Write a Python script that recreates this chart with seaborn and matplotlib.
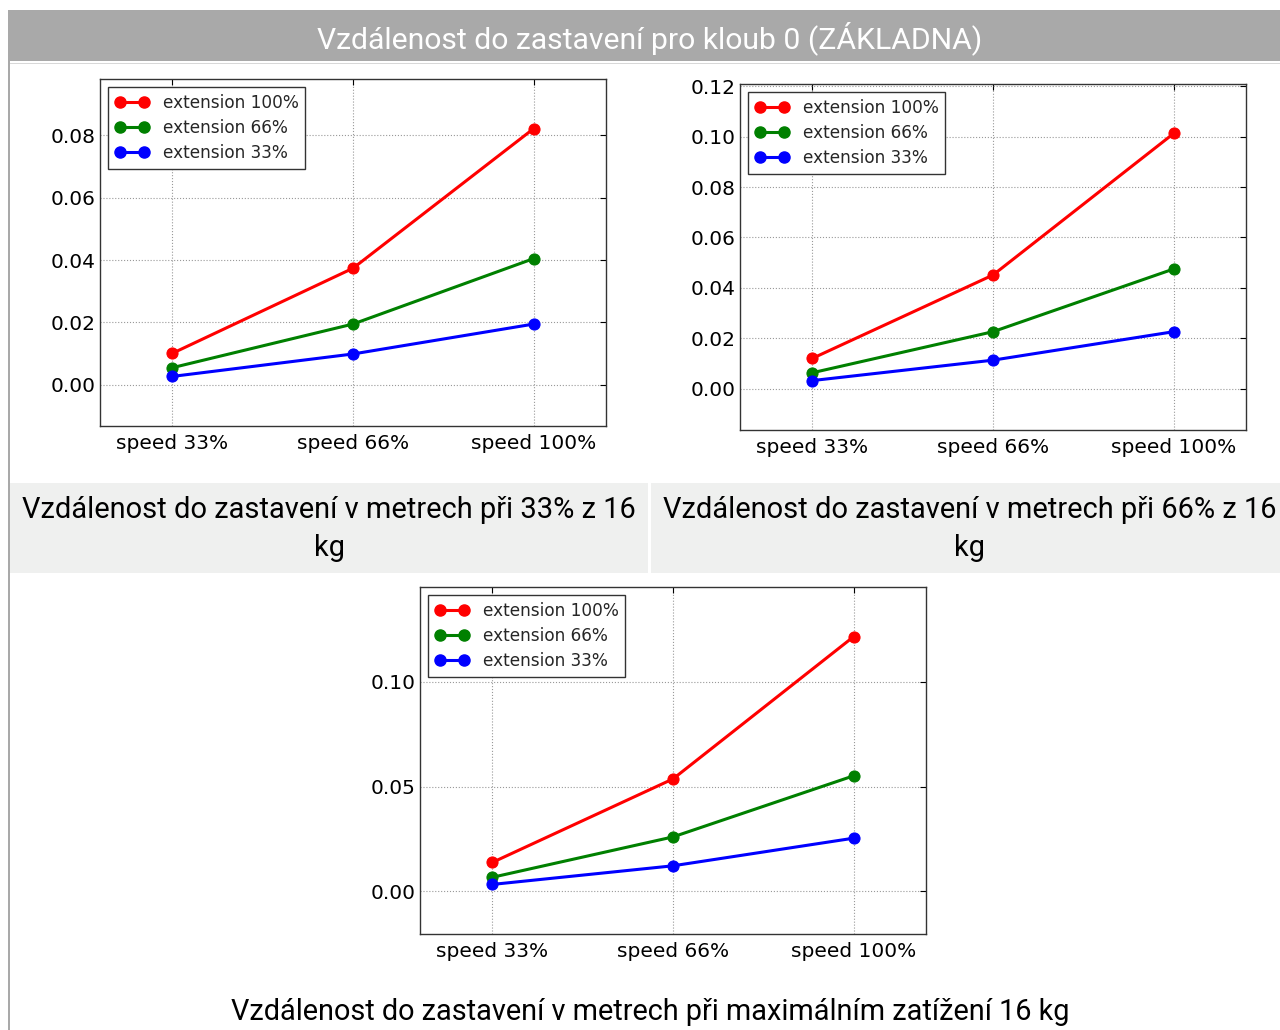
import matplotlib
matplotlib.use("Agg")
import matplotlib.pyplot as plt
import seaborn as sns
from matplotlib.patches import Rectangle
from matplotlib.lines import Line2D
from matplotlib.ticker import MultipleLocator

# data
speeds = ["speed 33%", "speed 66%", "speed 100%"]
ext_labels = ["extension 100%", "extension 66%", "extension 33%"]
ext_colors = ["#ff0000", "#008000", "#0000ff"]

load33_ext100 = [0.0101, 0.0374, 0.0822]
load33_ext66 = [0.0055, 0.0195, 0.0405]
load33_ext33 = [0.0027, 0.0099, 0.0195]

load66_ext100 = [0.0120, 0.0451, 0.1013]
load66_ext66 = [0.0063, 0.0226, 0.0475]
load66_ext33 = [0.0032, 0.0113, 0.0226]

loadmax_ext100 = [0.0138, 0.0537, 0.1217]
loadmax_ext66 = [0.0067, 0.0260, 0.0552]
loadmax_ext33 = [0.0033, 0.0122, 0.0254]

title = "Vzdálenost do zastavení pro kloub 0 (ZÁKLADNA)"
captions = [
    "Vzdálenost do zastavení v metrech při 33% z 16\nkg",
    "Vzdálenost do zastavení v metrech při 66% z 16\nkg",
    "Vzdálenost do zastavení v metrech při maximálním zatížení 16 kg",
]

sns.set_theme(style="white")
plt.rcParams["font.family"] = ["DejaVu Sans"]

W, H = 1280, 1030
fig = plt.figure(figsize=(W / 100, H / 100), dpi=100)
fig.patch.set_facecolor("white")


def fx(px):
    return px / W


def fy(py):
    return 1 - py / H


# page decoration: header bar, left border, caption band
fig.patches.append(Rectangle((fx(8), fy(61)), fx(1272), 51 / H, transform=fig.transFigure,
                             facecolor="#a9a9a9", edgecolor="none", zorder=0))
fig.patches.append(Rectangle((fx(8), fy(64)), fx(1272), 1.5 / H, transform=fig.transFigure,
                             facecolor="#d8d8d8", edgecolor="none", zorder=0))
fig.patches.append(Rectangle((fx(8), 0), fx(2), fy(61), transform=fig.transFigure,
                             facecolor="#a9a9a9", edgecolor="none", zorder=0))
fig.patches.append(Rectangle((fx(10), fy(573)), fx(1270), 90 / H, transform=fig.transFigure,
                             facecolor="#eff0ef", edgecolor="none", zorder=0))
fig.patches.append(Rectangle((fx(648), fy(573)), fx(3), 90 / H, transform=fig.transFigure,
                             facecolor="white", edgecolor="none", zorder=0))

txt_font = ["Roboto", "DejaVu Sans"]
fig.text(fx(650), fy(38), title, ha="center", va="center", color="white",
         fontsize=21.7, family=txt_font)
fig.text(fx(329), fy(529), captions[0], ha="center", va="center", color="black",
         fontsize=20.9, family=txt_font, linespacing=1.5)
fig.text(fx(970), fy(529), captions[1], ha="center", va="center", color="black",
         fontsize=20.9, family=txt_font, linespacing=1.5)
fig.text(fx(650), fy(1012), captions[2], ha="center", va="center", color="black",
         fontsize=20.8, family=txt_font)


def draw_panel(rect, series, step):
    ax = fig.add_axes(rect)
    for vals, lab, col in zip(series, ext_labels, ext_colors):
        sns.lineplot(x=speeds, y=vals, ax=ax, color=col, label=lab, marker="o",
                     markersize=8, markeredgecolor=col, linewidth=2.2, sort=False)
    lo = min(min(s) for s in series)
    hi = max(max(s) for s in series)
    pad = 0.2 * (hi - lo)
    ax.set_ylim(lo - pad, hi + pad)
    ax.set_xlim(-0.4, len(speeds) - 1 + 0.4)
    ax.yaxis.set_major_locator(MultipleLocator(step))
    ax.yaxis.set_major_formatter(plt.FormatStrFormatter("%.2f"))
    ax.set_xlabel("")
    ax.set_ylabel("")
    ax.grid(True, linestyle=":", color="#999999", linewidth=0.8)
    for sp in ax.spines.values():
        sp.set_color("#333333")
        sp.set_linewidth(1.0)
    ax.tick_params(axis="both", direction="in", length=4, width=0.8, labelsize=14.5,
                   top=True, right=True, colors="black")
    ax.tick_params(axis="y", pad=3)
    ax.tick_params(axis="x", pad=6)
    handles = [Line2D([], [], color=c, marker="o", markersize=8, linewidth=2.2)
               for c in ext_colors]
    leg = ax.legend(handles, ext_labels, loc="upper left", fontsize=12.2, numpoints=2,
                    fancybox=False, framealpha=1, edgecolor="#333333",
                    handlelength=2.0, borderaxespad=0.5, labelspacing=0.4)
    leg.get_frame().set_linewidth(1.0)
    return ax


draw_panel([fx(100), fy(426), fx(506), 347 / H],
           [load33_ext100, load33_ext66, load33_ext33], 0.02)
draw_panel([fx(740), fy(430), fx(506), 346 / H],
           [load66_ext100, load66_ext66, load66_ext33], 0.02)
draw_panel([fx(420), fy(934), fx(506), 347 / H],
           [loadmax_ext100, loadmax_ext66, loadmax_ext33], 0.05)

fig.savefig("out.png", dpi=100)
